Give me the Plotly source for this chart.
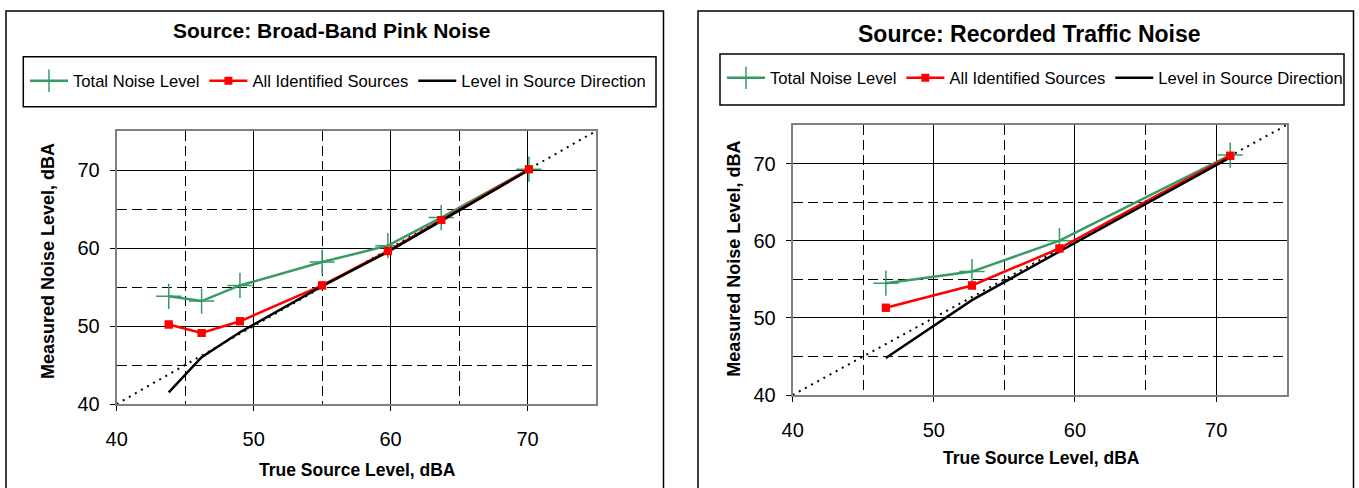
import plotly.graph_objects as go

W, H = 1359, 488

# Broad-band pink noise source
pink_true = [43.8, 46.2, 49.0, 55.0, 59.8, 63.7, 70.1]
pink_total = [53.8, 53.2, 55.2, 58.2, 60.3, 63.9, 70.1]
pink_identified = [50.2, 49.1, 50.6, 55.2, 59.6, 63.6, 70.1]
pink_direction = [41.5, 46.0, 49.2, 55.1, 59.5, 63.5, 70.0]

# Recorded traffic noise source
traffic_true = [46.6, 52.7, 58.9, 71.0]
traffic_total = [54.5, 56.0, 60.0, 71.1]
traffic_identified = [51.3, 54.2, 59.0, 71.0]
traffic_direction = [44.8, 52.3, 58.6, 70.8]

# Reference diagonal (measured = true)
diag = [40, 75]
axis_ticks = [40, 50, 60, 70]

series_names = ["Total Noise Level", "All Identified Sources", "Level in Source Direction"]
GREEN = "#379a67"
RED = "#ff0000"
FONT = "Arial, Liberation Sans, sans-serif"


def px(x):
    return x / W


def py(y):
    return 1 - y / H


fig = go.Figure()

panels = [
    dict(x=pink_true, total=pink_total, ident=pink_identified, direc=pink_direction,
         xa="x", ya="y", legend="legend"),
    dict(x=traffic_true, total=traffic_total, ident=traffic_identified, direc=traffic_direction,
         xa="x2", ya="y2", legend="legend2"),
]

for p in panels:
    common = dict(xaxis=p["xa"], yaxis=p["ya"], legend=p["legend"])
    fig.add_trace(go.Scatter(x=diag, y=diag, mode="lines", showlegend=False, hoverinfo="skip",
                             line=dict(color="black", width=2, dash="2px,5px"), **common))
    fig.add_trace(go.Scatter(x=p["x"], y=p["total"], mode="lines+markers", name=series_names[0],
                             line=dict(color=GREEN, width=2.5),
                             marker=dict(symbol="cross-thin-open", size=18,
                                         line=dict(color=GREEN, width=1.5)), **common))
    fig.add_trace(go.Scatter(x=p["x"], y=p["ident"], mode="lines+markers", name=series_names[1],
                             line=dict(color=RED, width=2.5),
                             marker=dict(symbol="square", size=8, color=RED), **common))
    fig.add_trace(go.Scatter(x=p["x"], y=p["direc"], mode="lines", name=series_names[2],
                             line=dict(color="black", width=2.5), **common))
    fig.add_trace(go.Scatter(x=p["x"], y=p["ident"], mode="markers", showlegend=False,
                             marker=dict(symbol="square", size=8, color=RED), **common))


def axis(domain, anchor, standoff):
    return dict(
        domain=domain, anchor=anchor, range=[40, 75], tickvals=axis_ticks,
        showgrid=True, gridcolor="black", gridwidth=1,
        minor=dict(dtick=5, tick0=40, showgrid=True, gridcolor="black", gridwidth=1,
                   griddash="10px,5px", ticks=""),
        showline=True, linecolor="#808080", linewidth=2, mirror=True,
        ticks="outside", ticklen=5, tickcolor="black", tickwidth=1,
        tickfont=dict(family=FONT, size=20, color="black"),
        ticklabelstandoff=standoff, zeroline=False, fixedrange=True, automargin=False,
    )


legend_style = dict(orientation="h", xanchor="left", yanchor="middle", itemwidth=38,
                    font=dict(family=FONT, size=16.6, color="black"),
                    bgcolor="rgba(0,0,0,0)", borderwidth=0)

fig.update_layout(
    width=W, height=H, margin=dict(l=0, r=0, t=0, b=0, pad=0, autoexpand=False),
    paper_bgcolor="white", plot_bgcolor="white",
    font=dict(family=FONT, color="black"),
    xaxis=axis([px(116.7), px(596)], "y", 11),
    yaxis=axis([py(404), py(131)], "x", 6),
    xaxis2=axis([px(792.7), px(1286.7)], "y2", 11),
    yaxis2=axis([py(395), py(125)], "x2", 6),
    legend=dict(x=px(25), y=py(81), **legend_style),
    legend2=dict(x=px(722), y=py(78), **legend_style),
    showlegend=True,
)

# Panel frames and legend boxes
shapes = [
    dict(x0=px(6), x1=px(663.5), y0=py(11), y1=-0.05),
    dict(x0=px(698), x1=px(1353.5), y0=py(11), y1=-0.05),
    dict(x0=px(23.3), x1=px(656), y0=py(56.7), y1=py(106.7)),
    dict(x0=px(720), x1=px(1344), y0=py(54), y1=py(105)),
]
for s in shapes:
    fig.add_shape(type="rect", xref="paper", yref="paper", line=dict(color="black", width=1.5),
                  fillcolor="rgba(0,0,0,0)", layer="above", **s)

annotations = [
    dict(text="<b>Source: Broad-Band Pink Noise</b>", x=px(331), y=py(31), size=21),
    dict(text="<b>Source: Recorded Traffic Noise</b>", x=px(1029), y=py(34), size=23),
    dict(text="<b>True Source Level, dBA</b>", x=px(357), y=py(470), size=17.5),
    dict(text="<b>True Source Level, dBA</b>", x=px(1041), y=py(458), size=17.5),
    dict(text="<b>Measured Noise Level, dBA</b>", x=px(48), y=py(261), size=18, angle=-90),
    dict(text="<b>Measured Noise Level, dBA</b>", x=px(733.7), y=py(259), size=18, angle=-90),
]
for a in annotations:
    fig.add_annotation(text=a["text"], x=a["x"], y=a["y"], xref="paper", yref="paper",
                       xanchor="center", yanchor="middle", showarrow=False,
                       textangle=a.get("angle", 0),
                       font=dict(family=FONT, size=a["size"], color="black"))

fig.write_html("out.html")
